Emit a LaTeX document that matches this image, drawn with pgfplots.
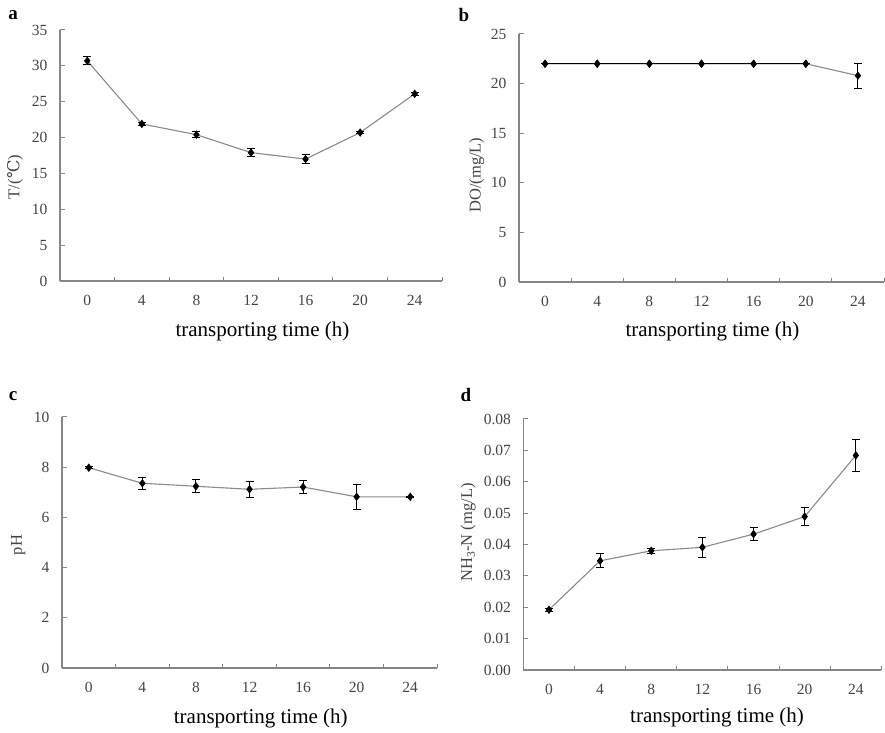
\documentclass[border=0pt]{standalone}
\usepackage{fontspec}
\setmainfont{Liberation Serif}
\newfontfamily\symfont{DejaVu Serif}
\usepackage{pgfplots}
\pgfplotsset{compat=1.18}

\definecolor{axisgray}{HTML}{868686}
\definecolor{linegray}{HTML}{8A8A8A}
\definecolor{textgray}{HTML}{444444}

\pgfplotsset{
  panel/.style={
    scale only axis, anchor=south west,
    axis x line=bottom, axis y line=left,
    axis line style={axisgray, line width=1.3bp, -},
    xmin=-0.5, xmax=6.5, ymin=0,
    xtick={0,...,6}, xticklabels={0,4,8,12,16,20,24},
    minor xtick={0.5,1.5,...,6.5},
    major x tick style={draw=none},
    minor x tick style={axisgray, line width=1bp},
    minor tick length=4bp,
    major tick length=5bp,
    tick align=inside,
    ytick style={axisgray, line width=1bp},
    tick label style={font=\fontsize{15.5bp}{18bp}\selectfont, text=textgray},
    /pgf/number format/assume math mode=true,
    xticklabel style={yshift=-11bp},
    yticklabel style={xshift=-9bp},
    xlabel={transporting time (h)},
    xlabel style={at={(axis description cs:0.53,-0.2)}, anchor=center,
      font=\fontsize{21bp}{24bp}\selectfont, text=black},
    ylabel style={rotate=0, anchor=center,
      font=\fontsize{16.5bp}{19bp}\selectfont, text=textgray},
    clip=false,
  },
  series/.style={
    color=linegray, line width=1.1bp,
    mark=diamond*, mark size=3.8bp,
    mark options={black, fill=black, line width=0.5bp},
    error bars/.cd, y dir=both, y explicit,
    error bar style={black, line width=1bp},
    error mark options={rotate=90, black, mark size=4bp, line width=1bp},
  },
}

\begin{document}
\begin{tikzpicture}
  \path (0bp,0bp) rectangle (885bp,733bp);

  % (a) water temperature
  \begin{axis}[panel, at={(60bp,452bp)}, width=382bp, height=251bp,
      ymax=35, ytick={0,5,...,35},
      ylabel={T/({\symfont ℃})},
      ylabel style={at={(axis description cs:-0.118,0.414)}}]
    \addplot+[series] coordinates {
      (0,30.7) +- (0,0.55)
      (1,21.9) +- (0,0.15)
      (2,20.4) +- (0,0.40)
      (3,17.9) +- (0,0.55)
      (4,17.0) +- (0,0.60)
      (5,20.7) +- (0,0.15)
      (6,26.1) +- (0,0.20)
    };
  \end{axis}

  % (b) dissolved oxygen
  \begin{axis}[panel, at={(519bp,451bp)}, width=365bp, height=248bp,
      ymax=25, ytick={0,5,...,25},
      ylabel={DO/(mg/L)},
      ylabel style={at={(axis description cs:-0.116,0.431)}}]
    \addplot+[series] coordinates {
      (0,22.0) +- (0,0)
      (1,22.0) +- (0,0)
      (2,22.0) +- (0,0)
      (3,22.0) +- (0,0)
      (4,22.0) +- (0,0)
      (5,22.0) +- (0,0)
      (6,20.8) +- (0,1.25)
    };
    \addplot[black, line width=1.1bp] coordinates {
      (0,22.0) (1,22.0) (2,22.0) (3,22.0) (4,22.0) (5,22.0)
    };
    \addplot[only marks, mark=diamond*, mark size=3.8bp, black] coordinates {
      (0,22.0) (1,22.0) (2,22.0) (3,22.0) (4,22.0) (5,22.0)
    };
  \end{axis}

  % (c) pH
  \begin{axis}[panel, at={(62bp,65bp)}, width=375bp, height=251bp,
      ymax=10, ytick={0,2,...,10},
      ylabel={pH},
      ylabel style={at={(axis description cs:-0.117,0.49)}}]
    \addplot+[series] coordinates {
      (0,7.98) +- (0,0.04)
      (1,7.36) +- (0,0.23)
      (2,7.24) +- (0,0.25)
      (3,7.12) +- (0,0.31)
      (4,7.21) +- (0,0.25)
      (5,6.82) +- (0,0.50)
      (6,6.82) +- (0,0.03)
    };
  \end{axis}

  % (d) ammonia nitrogen
  \begin{axis}[panel, at={(523.4bp,63bp)}, width=358bp, height=251bp,
      ymax=0.08, ytick={0,0.01,...,0.08},
      yticklabel style={/pgf/number format/.cd, fixed, fixed zerofill, precision=2},
      scaled y ticks=false,
      ylabel={NH\textsubscript{3}-N (mg/L)},
      ylabel style={at={(axis description cs:-0.154,0.548)}},
      xlabel style={at={(axis description cs:0.541,-0.19)}}]
    \addplot+[series] coordinates {
      (0,0.0192) +- (0,0.0005)
      (1,0.0348) +- (0,0.0022)
      (2,0.0380) +- (0,0.0008)
      (3,0.0391) +- (0,0.0031)
      (4,0.0433) +- (0,0.0021)
      (5,0.0489) +- (0,0.0029)
      (6,0.0684) +- (0,0.0050)
    };
  \end{axis}

  % panel letters
  \begin{scope}[every node/.style={font=\bfseries\fontsize{19bp}{22bp}\selectfont, inner sep=0pt}]
    \node at (13bp,718bp) {a};
    \node at (464bp,718bp) {b};
    \node at (13bp,337bp) {c};
    \node at (466bp,338bp) {d};
  \end{scope}

  \pgfresetboundingbox
  \path[use as bounding box] (0bp,0bp) rectangle (885bp,733bp);
\end{tikzpicture}
\end{document}
